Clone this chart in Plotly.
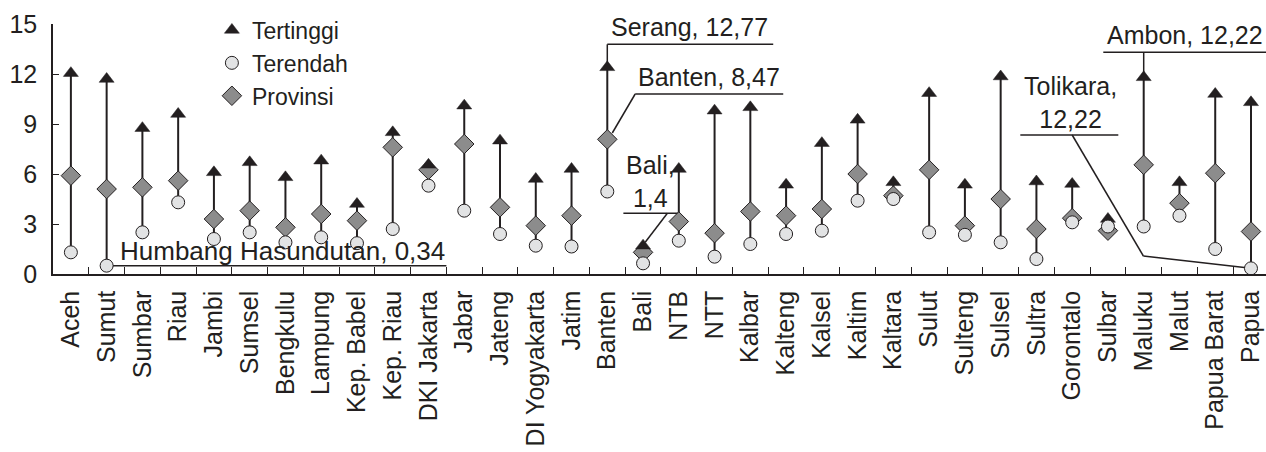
import plotly.graph_objects as go

categories = ["Aceh", "Sumut", "Sumbar", "Riau", "Jambi", "Sumsel", "Bengkulu", "Lampung",
              "Kep. Babel", "Kep. Riau", "DKI Jakarta", "Jabar", "Jateng", "DI Yogyakarta",
              "Jatim", "Banten", "Bali", "NTB", "NTT", "Kalbar", "Kalteng", "Kalsel", "Kaltim",
              "Kaltara", "Sulut", "Sulteng", "Sulsel", "Sultra", "Gorontalo", "Sulbar", "Maluku",
              "Malut", "Papua Barat", "Papua"]

tertinggi = [12.05, 11.7, 8.75, 9.6, 6.1, 6.7, 5.8, 6.8, 4.2, 8.5, 6.55, 10.1, 8.0, 5.7, 6.3,
             12.4, 1.7, 6.3, 9.8, 10.0, 5.35, 7.85, 9.25, 5.5, 10.85, 5.35, 11.85, 5.55, 5.4,
             3.3, 11.8, 5.5, 10.8, 10.3]

terendah = [1.3, 0.5, 2.5, 4.3, 2.1, 2.5, 1.9, 2.2, 1.85, 2.7, 5.3, 3.8, 2.4, 1.7, 1.65,
            4.95, 0.64, 2.0, 1.04, 1.8, 2.4, 2.6, 4.4, 4.5, 2.5, 2.35, 1.9, 0.9, 3.1,
            2.85, 2.85, 3.5, 1.5, 0.34]

provinsi = [5.9, 5.1, 5.2, 5.6, 3.3, 3.8, 2.8, 3.6, 3.2, 7.6, 6.25, 7.8, 4.0, 2.9, 3.5,
            8.08, 1.3, 3.15, 2.45, 3.75, 3.5, 3.9, 6.0, 4.7, 6.25, 2.9, 4.5, 2.7, 3.35,
            2.6, 6.55, 4.25, 6.05, 2.55]

y_ticks = [0, 3, 6, 9, 12, 15]

INK = "#231f20"
FONT = "Liberation Sans, Arial, Helvetica, sans-serif"

# stems from lowest to highest
sx, sy = [], []
for c, lo, hi in zip(categories, terendah, tertinggi):
    sx += [c, c, None]
    sy += [lo, hi, None]

fig = go.Figure()
fig.add_trace(go.Scatter(x=sx, y=sy, mode="lines", line=dict(color=INK, width=2),
                         showlegend=False, hoverinfo="skip"))
fig.add_trace(go.Scatter(x=categories, y=provinsi, mode="markers", name="Provinsi",
                         legendrank=3,
                         marker=dict(symbol="diamond", size=15, color="#8c8c8c",
                                     line=dict(color=INK, width=1))))
fig.add_trace(go.Scatter(x=categories, y=tertinggi, mode="markers", name="Tertinggi",
                         legendrank=1,
                         marker=dict(symbol="triangle-up", size=13, color=INK,
                                     line=dict(color=INK, width=0.5))))
fig.add_trace(go.Scatter(x=categories, y=terendah, mode="markers", name="Terendah",
                         legendrank=2,
                         marker=dict(symbol="circle", size=13, color="#e2e3e4",
                                     line=dict(color=INK, width=1))))

idx = {c: i for i, c in enumerate(categories)}
ib, ibali, imal, ipap, isum = idx["Banten"], idx["Bali"], idx["Maluku"], idx["Papua"], idx["Sumut"]

line_style = dict(color=INK, width=1.5)
shapes = [
    # Humbang Hasundutan underline
    dict(type="line", xref="x", yref="y", x0=isum, y0=terendah[isum], x1=10.5, y1=terendah[isum], line=line_style),
    # Serang
    dict(type="line", xref="x", yref="y", x0=ib, y0=13.78, x1=19.64, y1=13.78, line=line_style),
    dict(type="line", xref="x", yref="y", x0=ib, y0=13.78, x1=ib, y1=tertinggi[ib], line=line_style),
    # Banten
    dict(type="line", xref="x", yref="y", x0=15.78, y0=10.8, x1=19.92, y1=10.8, line=line_style),
    dict(type="line", xref="x", yref="y", x0=15.78, y0=10.8, x1=ib + 0.14, y1=provinsi[ib] + 0.38, line=line_style),
    # Bali
    dict(type="line", xref="x", yref="y", x0=15.45, y0=3.64, x1=16.98, y1=3.64, line=line_style),
    dict(type="line", xref="x", yref="y", x0=16.68, y0=3.64, x1=ibali + 0.06, y1=tertinggi[ibali] + 0.2, line=line_style),
    # Tolikara
    dict(type="line", xref="x", yref="y", x0=26.55, y0=8.34, x1=29.29, y1=8.34, line=line_style),
    dict(type="line", xref="x", yref="y", x0=28.0, y0=8.34, x1=29.99, y1=1.08, line=line_style),
    dict(type="line", xref="x", yref="y", x0=29.99, y0=1.08, x1=ipap, y1=terendah[ipap], line=line_style),
    # Ambon
    dict(type="line", xref="x", yref="y", x0=28.87, y0=13.3, x1=33.5, y1=13.3, line=line_style),
    dict(type="line", xref="x", yref="y", x0=imal, y0=13.3, x1=imal, y1=tertinggi[imal], line=line_style),
]
for s in shapes:
    s["layer"] = "below"

ann_font = dict(family=FONT, size=25, color=INK)
annotations = [
    dict(x=5.92, y=1.40, text="Humbang Hasundutan, 0,34", font=dict(family=FONT, size=26, color=INK)),
    dict(x=17.31, y=14.84, text="Serang, 12,77"),
    dict(x=17.85, y=11.84, text="Banten, 8,47"),
    dict(x=16.2, y=5.53, text="Bali,<br>1,4"),
    dict(x=27.95, y=10.3, text="Tolikara,<br>12,22"),
    dict(x=31.15, y=14.34, text="Ambon, 12,22"),
]
for a in annotations:
    a.setdefault("font", ann_font)
    a.update(xref="x", yref="y", showarrow=False, xanchor="center", yanchor="middle",
             align="center")

fig.update_layout(
    width=1266, height=452,
    margin=dict(l=53, r=0, t=24, b=178, pad=0),
    paper_bgcolor="white", plot_bgcolor="white",
    font=dict(family=FONT, color=INK),
    shapes=shapes, annotations=annotations,
    legend=dict(x=0.131, y=1.062, xanchor="left", yanchor="top",
                font=dict(family=FONT, size=23, color=INK),
                bgcolor="rgba(0,0,0,0)", itemsizing="trace"),
    xaxis=dict(type="category", categoryorder="array", categoryarray=categories,
               range=[-0.5, 33.42], tickson="boundaries", ticks="inside", ticklen=7,
               tickcolor=INK, tickwidth=1.2, showline=True, linecolor=INK, linewidth=1.5,
               tickangle=-90, tickfont=dict(family=FONT, size=25, color=INK),
               showgrid=False, zeroline=False, automargin=False, ticklabelstandoff=5),
    yaxis=dict(range=[0, 15], tickvals=y_ticks, ticktext=[str(v) for v in y_ticks],
               ticks="inside", ticklen=6, tickcolor=INK, tickwidth=1,
               showline=True, linecolor=INK, linewidth=1.5,
               tickfont=dict(family=FONT, size=25, color=INK),
               showgrid=False, zeroline=False, automargin=False, ticklabelstandoff=9),
)

fig.write_html("out.html", config={"displayModeBar": False},
               post_script="document.body.style.margin='0';")
